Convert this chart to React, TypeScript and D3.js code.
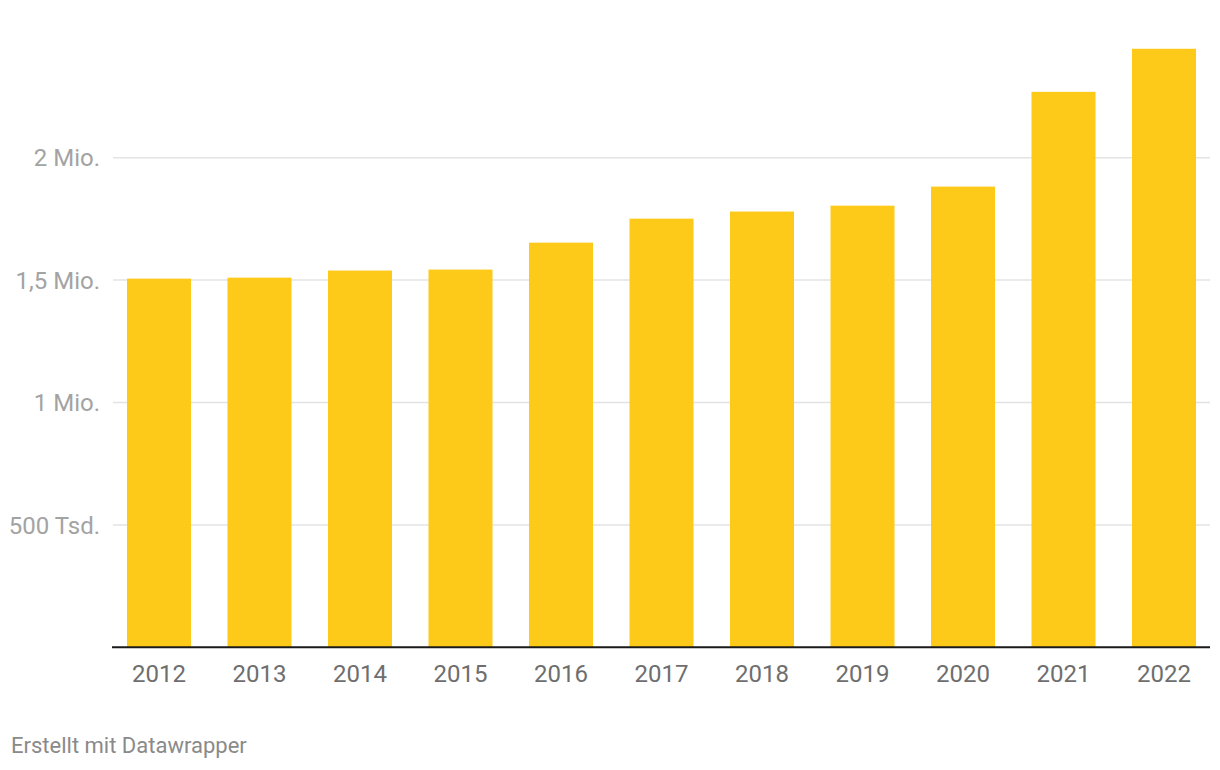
import React from "react";
import * as d3 from "d3";

const years = ["2012","2013","2014","2015","2016","2017","2018","2019","2020","2021","2022"];
const values = [1506000, 1510000, 1539000, 1543000, 1653000, 1751000, 1780000, 1804000, 1882000, 2269000, 2445000];
const yTicks = [500000, 1000000, 1500000, 2000000];
const yTickLabels = ["500 Tsd.", "1 Mio.", "1,5 Mio.", "2 Mio."];

const W = 1220, H = 770;
const font = "Roboto, 'Noto Sans', sans-serif";

export default function App() {
  const x = d3.scaleBand<string>().domain(years).range([113, 1210]).paddingInner(0.363).paddingOuter(0.139);
  const y = d3.scaleLinear().domain([0, 2000000]).range([647.3, 157.7]);
  return (
    <svg width={W} height={H} style={{ position: "absolute", left: 0, top: 0 }} fontFamily={font}>
      <rect width={W} height={H} fill="#fff" />
      {yTicks.map((t, i) => (
        <g key={t}>
          <line x1={113} x2={1210} y1={y(t)} y2={y(t)} stroke="#e3e3e3" strokeWidth={1.5} />
          <text x={100} y={y(t)} dy="0.36em" textAnchor="end" fontSize={24} fill="#a3a3a3">{yTickLabels[i]}</text>
        </g>
      ))}
      {years.map((yr, i) => (
        <rect key={yr} x={x(yr)} width={x.bandwidth()} y={y(values[i])} height={y(0) - y(values[i])} fill="#fdca1a" />
      ))}
      <line x1={112} x2={1210} y1={647.3} y2={647.3} stroke="#1a1a1a" strokeWidth={2} />
      {years.map((yr) => (
        <text key={yr} x={(x(yr) as number) + x.bandwidth() / 2} y={682} textAnchor="middle" fontSize={24} fill="#6e6e6e">{yr}</text>
      ))}
      <text x={11} y={753} fontSize={22} fill="#8a8a8a">Erstellt mit Datawrapper</text>
    </svg>
  );
}
